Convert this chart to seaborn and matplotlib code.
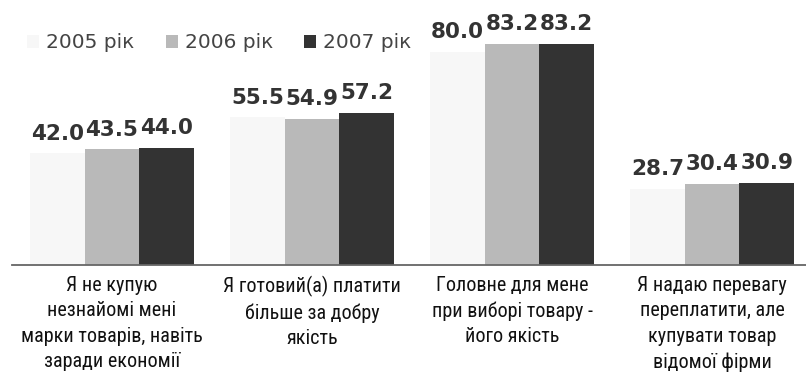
import matplotlib
matplotlib.use("Agg")
import matplotlib.pyplot as plt
from matplotlib import font_manager
from matplotlib.patches import Patch
import seaborn as sns
import pandas as pd

categories = [
    "Я не купую\nнезнайомі мені\nмарки товарів, навіть\nзаради економії",
    "Я готовий(а) платити\nбільше за добру\nякість",
    "Головне для мене\nпри виборі товару -\nйого якість",
    "Я надаю перевагу\nпереплатити, але\nкупувати товар\nвідомої фірми",
]
years = ["2005 рік", "2006 рік", "2007 рік"]
values_2005 = [42.0, 55.5, 80.0, 28.7]
values_2006 = [43.5, 54.9, 83.2, 30.4]
values_2007 = [44.0, 57.2, 83.2, 30.9]
colors = ["#f7f7f7", "#b9b9b9", "#333333"]

rows = []
for yr, vals in zip(years, [values_2005, values_2006, values_2007]):
    for c, v in zip(categories, vals):
        rows.append({"cat": c, "year": yr, "val": v})
df = pd.DataFrame(rows)

sns.set_style("white")
names = {f.name for f in font_manager.fontManager.ttflist}
narrow = None
for cand in ["Liberation Sans Narrow", "Roboto Condensed", "Arial Narrow"]:
    if cand in names:
        narrow = cand
        break
plt.rcParams["font.family"] = ["DejaVu Sans"]

W, H = 806, 377
fig = plt.figure(figsize=(W / 100, H / 100), dpi=100)
ax = fig.add_axes([12 / W, (H - 265) / H, 800 / W, 265 / H])

sns.barplot(data=df, x="cat", y="val", hue="year", palette=colors,
            width=0.82, saturation=1, legend=False, ax=ax, linewidth=0,
            errorbar=None)

ax.set_xlim(-0.5, 3.5)
ax.set_ylim(0, 99.6)
for cont in ax.containers:
    ax.bar_label(cont, fmt="%.1f", padding=7, fontsize=15.5, fontweight="bold",
                 color="#333333")

for s in ["left", "top", "right"]:
    ax.spines[s].set_visible(False)
ax.spines["bottom"].set_color("#666666")
ax.spines["bottom"].set_linewidth(1.3)
ax.set_yticks([])
ax.set_xlabel("")
ax.set_ylabel("")

ax.set_xticks(range(len(categories)))
lab_kw = dict(fontsize=14.5, color="#111111", linespacing=1.42)
if narrow:
    lab_kw["family"] = narrow
else:
    lab_kw["stretch"] = "condensed"
ax.set_xticklabels(categories, **lab_kw)
ax.tick_params(axis="x", which="major", length=0, pad=8)
ax.set_xticks([-0.5, 0.5, 1.5, 2.5, 3.5], minor=True)
ax.tick_params(axis="x", which="minor", length=6, width=1.3, color="#666666",
               direction="out")

handles = [Patch(facecolor=c, edgecolor="none") for c in colors]
fig.legend(handles, years, loc="center left", bbox_to_anchor=(27 / W, 1 - 43 / H),
           ncol=3, frameon=False, fontsize=14.5, labelcolor="#444444",
           handlelength=0.6, handleheight=0.6, handletextpad=0.35,
           columnspacing=1.55, borderpad=0, borderaxespad=0)

fig.savefig("out.png", dpi=100)
